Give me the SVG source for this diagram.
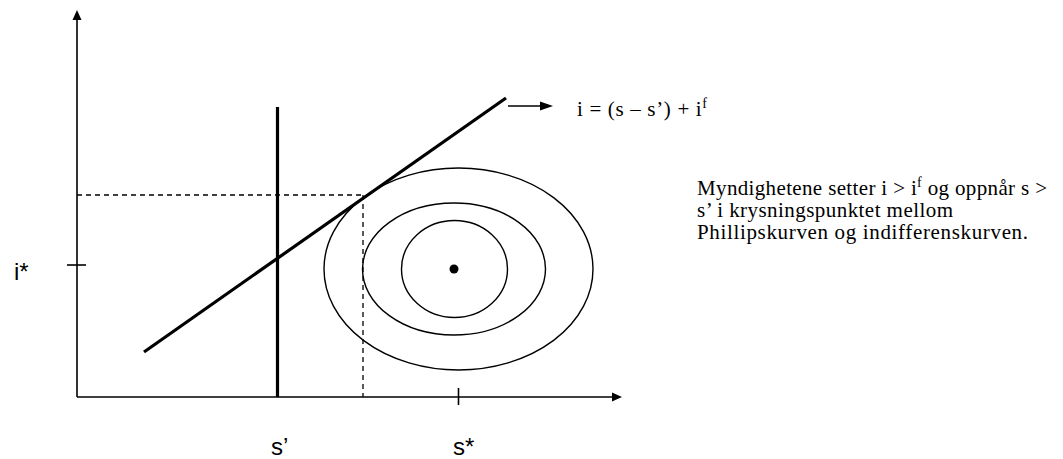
<svg xmlns="http://www.w3.org/2000/svg" width="1063" height="459" viewBox="0 0 1063 459">
<style>
.ax{stroke:#000;stroke-width:1.6;fill:none}
.thick{stroke:#000;stroke-width:3.2;fill:none}
.thin{stroke:#000;stroke-width:1.4;fill:none}
.dash{stroke:#000;stroke-width:1.3;fill:none;stroke-dasharray:5,4}
.lbl{font-family:"Liberation Sans",Arial,sans-serif;font-size:24px;fill:#000}
.ser{font-family:"Liberation Serif","Times New Roman",serif;font-size:21px;fill:#000}
</style>
<rect width="1063" height="459" fill="#fff"/>
<g id="axes">
<line class="ax" x1="77" y1="397" x2="77" y2="18"/>
<polygon points="77,10 72.5,20 81.5,20" fill="#000"/>
<line class="ax" x1="77" y1="397" x2="614" y2="397"/>
<polygon points="622,397 612,392.5 612,401.5" fill="#000"/>
<line class="ax" x1="67" y1="265" x2="86" y2="265"/>
<line class="ax" x1="458.5" y1="388" x2="458.5" y2="405"/>
</g>
<g id="indifference">
<ellipse class="thin" cx="458.5" cy="269" rx="134.5" ry="101"/>
<ellipse class="thin" cx="454" cy="269" rx="91.5" ry="66"/>
<ellipse class="thin" cx="454.5" cy="269" rx="53" ry="48.5"/>
<circle cx="454" cy="269" r="4.5" fill="#000"/>
</g>
<g id="connectors">
<line class="thick" x1="277.5" y1="107" x2="277.5" y2="397"/>
<line class="thick" x1="144" y1="352" x2="506" y2="98"/>
<line class="dash" x1="77" y1="195" x2="363" y2="195"/>
<line class="dash" x1="363" y1="195" x2="363" y2="397"/>
<line class="thin" x1="508" y1="106" x2="543" y2="106"/>
<polygon points="553,106 540,101.5 540,110.5" fill="#000"/>
</g>
<g id="labels">
<text class="lbl" x="14" y="280">i*</text>
<text class="lbl" x="271" y="455">s’</text>
<text class="lbl" x="453" y="455">s*</text>
<text class="ser" x="577" y="116" textLength="130" lengthAdjust="spacing">i = (s – s’) + i<tspan font-size="14" dy="-8">f</tspan></text>
</g>
<g id="note">
<text class="ser" x="697" y="195" textLength="350" lengthAdjust="spacing">Myndighetene setter i &gt; i<tspan font-size="14" dy="-8">f</tspan><tspan dy="8"> og oppnår s &gt;</tspan></text>
<text class="ser" x="697" y="217" textLength="256" lengthAdjust="spacing">s’ i krysningspunktet mellom</text>
<text class="ser" x="697" y="239" textLength="331" lengthAdjust="spacing">Phillipskurven og indifferenskurven.</text>
</g>
</svg>
